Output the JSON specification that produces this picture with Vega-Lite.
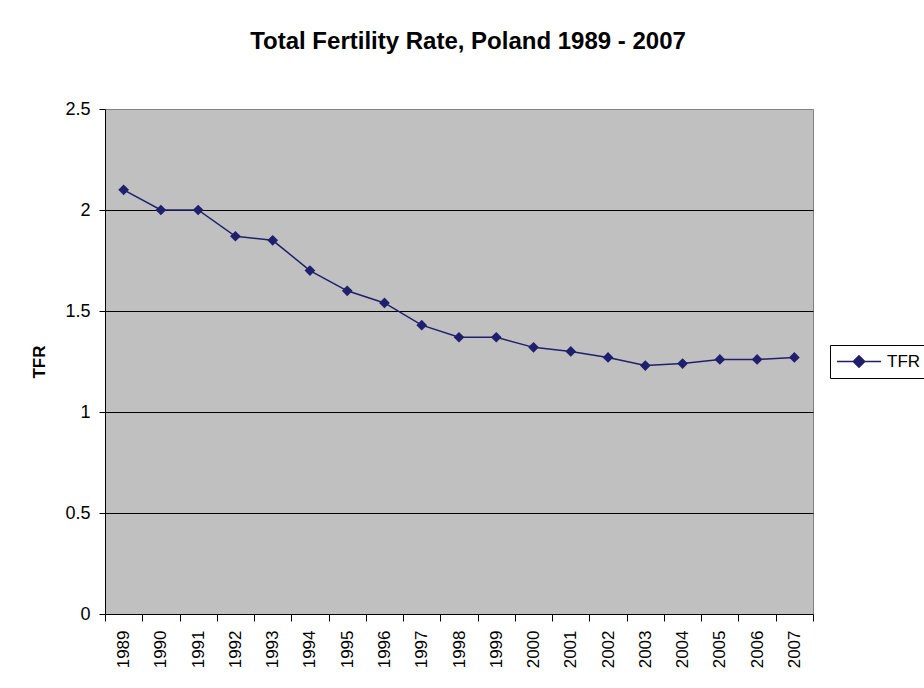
{
  "$schema": "https://vega.github.io/schema/vega-lite/v6.json",
  "autosize": {"type": "none"},
  "width": 708,
  "height": 505,
  "padding": {"left": 105, "top": 109, "right": 111, "bottom": 74},
  "background": "white",
  "config": {
    "font": "Liberation Sans",
    "view": {"fill": "#c0c0c0", "stroke": "#808080", "strokeWidth": 1}
  },
  "title": {
    "text": "Total Fertility Rate, Poland 1989 - 2007",
    "fontSize": 24,
    "fontWeight": "bold",
    "color": "black",
    "anchor": "middle",
    "offset": 46,
    "dx": 9
  },
  "data": {
    "values": [
      {"year": "1989", "TFR": 2.10, "series": "TFR"},
      {"year": "1990", "TFR": 2.00, "series": "TFR"},
      {"year": "1991", "TFR": 2.00, "series": "TFR"},
      {"year": "1992", "TFR": 1.87, "series": "TFR"},
      {"year": "1993", "TFR": 1.85, "series": "TFR"},
      {"year": "1994", "TFR": 1.70, "series": "TFR"},
      {"year": "1995", "TFR": 1.60, "series": "TFR"},
      {"year": "1996", "TFR": 1.54, "series": "TFR"},
      {"year": "1997", "TFR": 1.43, "series": "TFR"},
      {"year": "1998", "TFR": 1.37, "series": "TFR"},
      {"year": "1999", "TFR": 1.37, "series": "TFR"},
      {"year": "2000", "TFR": 1.32, "series": "TFR"},
      {"year": "2001", "TFR": 1.30, "series": "TFR"},
      {"year": "2002", "TFR": 1.27, "series": "TFR"},
      {"year": "2003", "TFR": 1.23, "series": "TFR"},
      {"year": "2004", "TFR": 1.24, "series": "TFR"},
      {"year": "2005", "TFR": 1.26, "series": "TFR"},
      {"year": "2006", "TFR": 1.26, "series": "TFR"},
      {"year": "2007", "TFR": 1.27, "series": "TFR"}
    ]
  },
  "mark": {
    "type": "line",
    "strokeWidth": 1.5,
    "point": {"shape": "diamond", "size": 115, "filled": true}
  },
  "encoding": {
    "x": {
      "field": "year",
      "type": "ordinal",
      "bandPosition": 0.5,
      "scale": {"type": "band", "paddingInner": 0, "paddingOuter": 0},
      "axis": {
        "title": null,
        "labelAngle": -90,
        "labelFontSize": 17,
        "labelPadding": 9,
        "labelColor": "black",
        "tickSize": 7,
        "tickBand": "extent",
        "tickColor": "black",
        "domainColor": "black",
        "grid": false
      }
    },
    "y": {
      "field": "TFR",
      "type": "quantitative",
      "scale": {"domain": [0, 2.5], "nice": false},
      "axis": {
        "values": [0, 0.5, 1, 1.5, 2, 2.5],
        "format": "~g",
        "title": "TFR",
        "titleFontSize": 17,
        "titleFontWeight": "bold",
        "titleColor": "black",
        "titlePadding": 16,
        "labelFontSize": 18,
        "labelPadding": 9,
        "labelColor": "black",
        "tickSize": 6,
        "tickColor": "black",
        "domainColor": "black",
        "grid": true,
        "gridColor": {"condition": {"test": "datum.value == 0 || datum.value == 2.5", "value": "transparent"}, "value": "black"},
        "gridOpacity": 1
      }
    },
    "color": {
      "field": "series",
      "type": "nominal",
      "scale": {"domain": ["TFR"], "range": ["#1f1f6e"]},
      "legend": {
        "orient": "none",
        "legendX": 725,
        "legendY": 236,
        "title": null,
        "strokeColor": "black",
        "fillColor": "white",
        "padding": 6,
        "symbolType": "M-1,0L1,0M0,-0.26L0.26,0L0,0.26L-0.26,0Z",
        "symbolSize": 1936,
        "symbolStrokeWidth": 1.5,
        "symbolFillColor": "#1f1f6e",
        "symbolStrokeColor": "#1f1f6e",
        "labelFontSize": 17,
        "labelOffset": 5,
        "labelColor": "black",
        "clipHeight": 21
      }
    }
  }
}
